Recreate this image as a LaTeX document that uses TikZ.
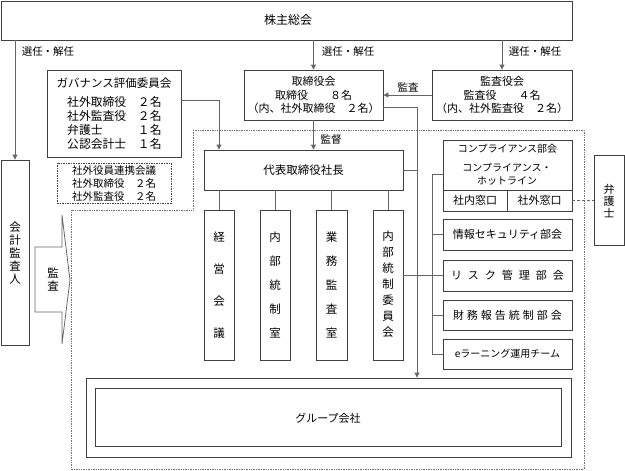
\documentclass[tikz,border=0pt]{standalone}
\usepackage{fontspec}
\setmainfont{Noto Sans CJK JP}
\usetikzlibrary{arrows.meta}
\tikzset{
  box/.style={draw=black!75, line width=0.8pt, rectangle, inner sep=0pt, fill=white},
  conn/.style={draw=black!60, line width=0.8pt},
  arr/.style={conn, -{Triangle[length=5pt,width=5pt]}},
  lbl/.style={inner sep=0pt, font=\fontsize{10.5}{12}\selectfont},
  txt/.style={inner sep=0pt, align=center, font=\fontsize{11}{13.5}\selectfont},
}
\begin{document}
\begin{tikzpicture}[x=1pt,y=-1pt]
\useasboundingbox (0,0) rectangle (625,471);
% dotted region
\draw[densely dotted, black!55, line width=0.7pt] (193,130) -- (584,130) -- (584,469) -- (71,469) -- (71,210) -- (193,210) -- cycle;
% boxes
\node[box, minimum width=571pt, minimum height=39pt] (kabu) at (286.5,20.5) {};
\node[txt, font=\fontsize{12}{14}\selectfont] at (288,20) {株主総会};
\node[box, minimum width=28pt, minimum height=185pt] (kaikei) at (15,252.5) {};
\node[txt, font=\fontsize{11.5}{13}\selectfont] at (15,253) {会\\計\\監\\査\\人};
\node[box, minimum width=134pt, minimum height=87pt] (gov) at (114,113.5) {};
\node[txt, font=\fontsize{11.5}{13.5}\selectfont] at (114,83) {ガバナンス評価委員会};
\node[txt, align=left, anchor=north west, font=\fontsize{11.8}{14}\selectfont] at (67,96) {社外取締役　２名\\社外監査役　２名\\弁護士　　　１名\\公認会計士　１名};
\node[box, dashed, dash pattern=on 1.5pt off 1pt, minimum width=114pt, minimum height=40pt] (renkei) at (114,183) {};
\node[txt, align=left, font=\fontsize{10.5}{13}\selectfont] at (114,184) {社外役員連携会議\\社外取締役　２名\\社外監査役　２名};
\node[box, minimum width=139pt, minimum height=50pt] (tori) at (313.5,95) {};
\node[txt] at (313.5,95) {取締役会\\取締役　　８名\\（内、社外取締役　２名）};
\node[box, minimum width=140pt, minimum height=50pt] (kansa) at (502,95) {};
\node[txt] at (502,95) {監査役会\\監査役　　４名\\（内、社外監査役　２名）};
\node[box, minimum width=199pt, minimum height=40pt] (pres) at (303.5,170) {};
\node[txt, font=\fontsize{11.5}{13.5}\selectfont] at (303.5,170) {代表取締役社長};
\node[box, minimum width=30pt, minimum height=150pt] (keiei) at (219,285) {};
\node[txt, font=\fontsize{11.5}{32}\selectfont] at (219,285) {経\\営\\会\\議};
\node[box, minimum width=30pt, minimum height=150pt] (naibu) at (275,285) {};
\node[txt, font=\fontsize{11.5}{24}\selectfont] at (275,285) {内\\部\\統\\制\\室};
\node[box, minimum width=31pt, minimum height=150pt] (gyomu) at (331.5,285) {};
\node[txt, font=\fontsize{11.5}{24}\selectfont] at (331.5,285) {業\\務\\監\\査\\室};
\node[box, minimum width=30pt, minimum height=150pt] (iinkai) at (388,285) {};
\node[txt, font=\fontsize{11.5}{16}\selectfont] at (388,284) {内\\部\\統\\制\\委\\員\\会};
% right column
\node[box, minimum width=129pt, minimum height=71pt] (comp) at (507.5,175.5) {};
\draw[box] (443,190) -- (572,190) (507,190) -- (507,211);
\node[txt, font=\fontsize{10}{12}\selectfont] at (507.5,149) {コンプライアンス部会};
\node[txt, font=\fontsize{10}{12.5}\selectfont] at (507,174) {コンプライアンス・\\ホットライン};
\node[txt] at (475,200.5) {社内窓口};
\node[txt] at (539.5,200.5) {社外窓口};
\node[box, minimum width=129pt, minimum height=31pt] (info) at (507.5,234.5) {};
\node[txt] at (507.5,234.5) {情報セキュリティ部会};
\node[box, minimum width=129pt, minimum height=31pt] (risk) at (507.5,275.5) {};
\node[txt] at (507.5,275.5) {リ\hspace{6pt}ス\hspace{6pt}ク\hspace{6pt}管\hspace{6pt}理\hspace{6pt}部\hspace{6pt}会};
\node[box, minimum width=129pt, minimum height=30pt] (zaimu) at (507.5,315) {};
\node[txt] at (507.5,315) {財\hspace{3pt}務\hspace{3pt}報\hspace{3pt}告\hspace{3pt}統\hspace{3pt}制\hspace{3pt}部\hspace{3pt}会};
\node[box, minimum width=129pt, minimum height=30pt] (elearn) at (507.5,354) {};
\node[txt, font=\fontsize{10}{12}\selectfont] at (507.5,354) {eラーニング運用チーム};
\node[box, minimum width=30pt, minimum height=90pt] (bengo) at (609,200) {};
\node[txt, font=\fontsize{11}{12}\selectfont] at (609,201) {弁\\護\\士};
% group
\node[box, minimum width=485pt, minimum height=79pt] (groupOuter) at (328.5,417.5) {};
\node[box, minimum width=466pt, minimum height=58pt] (groupInner) at (328,417) {};
\node[txt] at (328,418) {グループ会社};
% audit arrow shape
\draw[conn, fill=white] (35,247) -- (62,247) -- (62,215) -- (70,280) -- (62,344) -- (62,312) -- (35,312) -- cycle;
\node[txt, font=\fontsize{11.5}{13}\selectfont] at (53,280) {監\\査};
% connectors
\draw[arr] (kaikei.north |- kabu.south) -- (kaikei.north);
\node[lbl] at (48,52) {選任・解任};
\draw[arr] (tori.north |- kabu.south) -- (tori.north);
\node[lbl] at (348,52) {選任・解任};
\draw[arr] (kansa.north |- kabu.south) -- (kansa.north);
\node[lbl] at (535,52) {選任・解任};
\draw[arr] (kansa.west) -- (tori.east);
\node[lbl] at (408,87) {監査};
\draw[arr] (tori.south) -- (tori.south |- pres.north);
\node[lbl] at (331,140) {監督};
\coordinate (vline) at (417,107);
\draw[arr] ([yshift=-12pt]tori.east) -- (vline) -- (vline |- groupOuter.north);
\draw[conn] (pres.east) -- (pres.east -| vline);
\draw[arr] ([yshift=13.5pt]gov.east) -| (keiei.north |- pres.north);
\foreach \b in {keiei,naibu,gyomu,iinkai}
  \draw[conn] (\b.north |- pres.south) -- (\b.north);
\draw[conn] (risk.west -| iinkai.east) -- (risk.west);
\coordinate (br) at (432,0);
\draw[conn] ([yshift=1.5pt]comp.west -| br) -- (elearn.west -| br);
\draw[conn] ([yshift=1.5pt]comp.west -| br) -- ([yshift=1.5pt]comp.west);
\foreach \b in {info,zaimu,elearn}
  \draw[conn] (\b.west -| br) -- (\b.west);
\draw[conn, dashed, dash pattern=on 3pt off 2pt] (bengo.west -| comp.east) -- (bengo.west);
\end{tikzpicture}
\end{document}
